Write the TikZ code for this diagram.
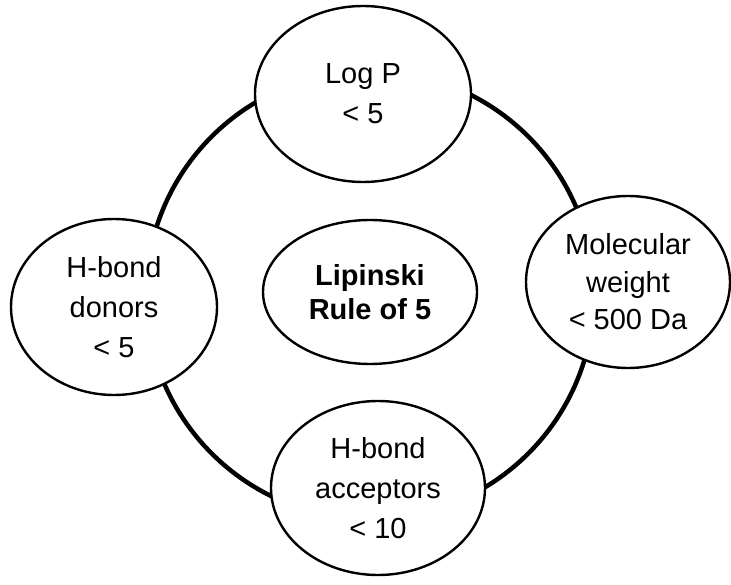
\documentclass[tikz,border=0pt]{standalone}
\usepackage{fontspec}
\setmainfont{Liberation Sans}
\usetikzlibrary{shapes.geometric}
\begin{document}
\begin{tikzpicture}[x=1pt,y=-1pt,
  bubble/.style={ellipse,draw,line width=2.4pt,fill=white,inner sep=0pt,align=center,font=\fontsize{29}{40}\selectfont},
  ring/.style={circle,draw,line width=4.5pt,inner sep=0pt}]
\fill[white] (0,0) rectangle (731,585);
\useasboundingbox (0,0) rectangle (731,585);
\node[ring,minimum size=448pt] (ring) at (370,295) {};
\node[bubble,minimum width=216pt,minimum height=176pt] (logp) at (363,94) {Log P\\< 5};
\node[bubble,minimum width=204pt,minimum height=172pt,font=\fontsize{29}{37.5}\selectfont] (mw) at (628,282) {Molecular\\weight\\< 500 Da};
\node[bubble,minimum width=206pt,minimum height=176pt] (don) at (114,307) {H-bond\\donors\\< 5};
\node[bubble,minimum width=214pt,minimum height=174pt] (acc) at (378,488) {H-bond\\acceptors\\< 10};
\node[bubble,minimum width=214pt,minimum height=144pt,font=\fontsize{29}{34}\selectfont\bfseries] (lip) at (370,292) {Lipinski\\Rule of 5};
\end{tikzpicture}
\end{document}
